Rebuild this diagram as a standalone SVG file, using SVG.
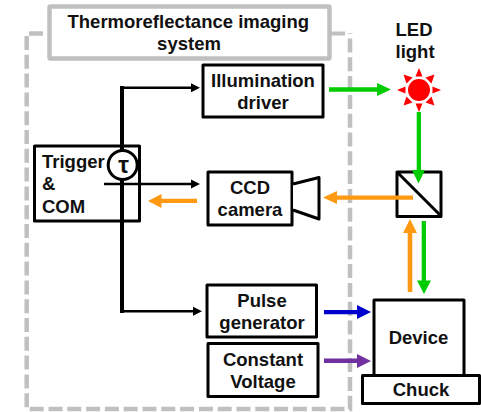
<svg xmlns="http://www.w3.org/2000/svg" width="481" height="412" viewBox="0 0 481 412">
<style>
text{font-family:"Liberation Sans",Arial,sans-serif;font-weight:700;font-size:18.500px;fill:#111;text-anchor:middle}
.s{text-anchor:start}
.b{fill:#fff;stroke:#000;stroke-width:3;stroke-linejoin:round}
.k{stroke:#000;fill:none}
</style>
<rect width="481" height="412" fill="#fff"/>
<path d="M43 33.500H26.700V409H350V33" fill="none" stroke="#c0c0c0" stroke-width="4.500" stroke-dasharray="14 4.800"/>
<g id="title"><rect x="49.500" y="6.500" width="280" height="52" rx="1" fill="#fff" stroke="#c0c0c0" stroke-width="4.500"/><path d="M331 33.500H345" stroke="#c0c0c0" stroke-width="4"/>
<text class="s" x="67.500" y="28.300">Thermoreflectance imaging</text><text x="189" y="50.300">system</text></g>
<g id="illumination-driver"><rect class="b" x="203" y="65" width="120" height="52"/><text x="263" y="87">Illumination</text><text x="263" y="109">driver</text></g>
<g id="ccd-camera"><rect class="b" x="208" y="172" width="84" height="53"/><path class="b" d="M293 184L319 177.500V219L293 210" /><text x="250" y="194">CCD</text><text x="250" y="216">camera</text></g>
<g id="trigger"><rect class="b" x="34.500" y="146" width="105" height="75"/><text class="s" x="42" y="168">Trigger</text><text class="s" x="42" y="190">&amp;</text><text class="s" x="42" y="213">COM</text></g>
<g id="pulse-generator"><rect class="b" x="207" y="285" width="109.500" height="52"/><text x="262" y="307">Pulse</text><text x="262" y="329">generator</text></g>
<g id="constant-voltage"><rect class="b" x="208" y="343.500" width="110" height="53"/><text x="263" y="366">Constant</text><text x="263" y="388">Voltage</text></g>
<g id="device"><rect class="b" x="374" y="300" width="90" height="76"/><text x="418.500" y="343.500">Device</text></g>
<g id="chuck"><rect class="b" x="362.500" y="375.500" width="117" height="28"/><text x="421" y="396">Chuck</text></g>
<g id="beamsplitter"><rect class="b" x="397" y="172" width="44" height="44.500"/><path class="k" stroke-width="3" d="M397 172L441 216"/></g>
<g id="led"><circle cx="419" cy="90" r="11" fill="#f00"/>
<path fill="#f00" d="M419 68l-3.500 8.500h7zM419 112l-3.500-8.500h7zM397 90l8.500-3.500v7zM441 90l-8.500-3.500v7zM403.500 74.500l9 3-6 6zM434.500 74.500l-9 3 6 6zM403.500 105.500l9-3-6-6zM434.500 105.500l-9-3 6-6z"/>
<text class="s" x="395.500" y="36">LED</text><text class="s" x="395.500" y="58.300">light</text></g>
<g id="connectors">
<path class="k" stroke-width="4" d="M122 150V86M122 180V313"/>
<path class="k" stroke-width="2.500" d="M121 87.700H194M104 184H194M122 311.300H196"/>
<path d="M200 87.700l-9-4.500v9zM200 184l-9-4.500v9zM202 311.300l-9-4.500v9z"/>
<circle cx="122.700" cy="165" r="14.500" fill="#fff" stroke="#000" stroke-width="3"/>
<text x="123.500" y="173" style="font-size:24px">τ</text>
<g fill="#00cc00"><path d="M329 87.300H377V83L391 89.500L377 96V91.700H329z"/>
<path d="M416.700 112H421V170H425L418.500 183.500L412 170H416.700z"/>
<path d="M421.700 221H426V280.500H431L424 294L417 280.500H421.700z"/></g>
<g fill="#ff9912"><path d="M413 195.500V199.700H337V204L323 197.500L337 191V195.500z"/>
<path d="M197 198.800V203H161.500V208L148 201L161.500 194V198.800z"/>
<path d="M407.700 292V233H403L410 219L417 233H412.300V292z"/></g>
<path fill="#0000cc" d="M324 310H357V305L371 312L357 319V314.300H324z"/>
<path fill="#7030a0" d="M324 358.500H357V354L371 361L357 368V363H324z"/>
</g>
</svg>
